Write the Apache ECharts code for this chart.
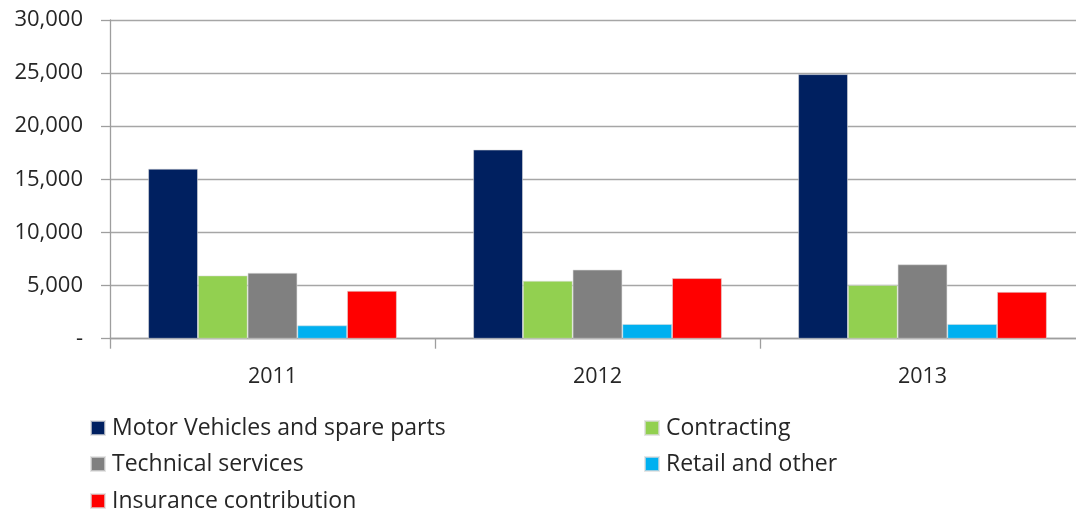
<!DOCTYPE html>
<html>
<head>
<meta charset="utf-8">
<script src="https://cdn.jsdelivr.net/npm/echarts@6/dist/echarts.min.js"></script>
<style>html,body{margin:0;padding:0;background:#fff}#c{width:1076px;height:516px}</style>
</head>
<body>
<div id="c"></div>
<script>
var categories = ['2011', '2012', '2013'];
var seriesNames = ['Motor Vehicles and spare parts', 'Contracting', 'Technical services', 'Retail and other', 'Insurance contribution'];
var motorVehicles = [16000, 17800, 24900];
var contracting = [5950, 5450, 5050];
var technicalServices = [6200, 6500, 7000];
var retailOther = [1250, 1380, 1380];
var insurance = [4500, 5700, 4400];
var colors = ['#002060', '#92D050', '#808080', '#00B0F0', '#FF0000'];
var values = [motorVehicles, contracting, technicalServices, retailOther, insurance];

var font = '"Open Sans", Lato, sans-serif';
var chart = echarts.init(document.getElementById('c'));

var legendPos = [
  {left: 90, top: 416}, {left: 644, top: 416},
  {left: 90, top: 452}, {left: 644, top: 452},
  {left: 90, top: 489}
];
var legends = seriesNames.map(function (n, i) {
  return {
    data: [n], left: legendPos[i].left, top: legendPos[i].top,
    icon: 'rect', itemWidth: 14, itemHeight: 14, itemGap: 0, padding: 0,
    textStyle: {fontFamily: font, fontSize: 23, lineHeight: 24, color: '#262626', padding: [0, 0, 0, 2]},
    selectedMode: false
  };
});

chart.setOption({
  animation: false,
  color: colors,
  grid: {left: 110, top: 20, width: 975, height: 318.7, containLabel: false, outerBoundsMode: 'none'},
  legend: legends,
  xAxis: {
    type: 'category', data: categories,
    axisLine: {lineStyle: {color: '#9e9e9e', width: 1.3}},
    axisTick: {show: true, length: 10, lineStyle: {color: '#9e9e9e', width: 1.3}},
    axisLabel: {fontFamily: font, fontSize: 21.5, color: '#262626', margin: 27}
  },
  yAxis: {
    type: 'value', min: 0, max: 30000, interval: 5000,
    axisLine: {show: true, lineStyle: {color: '#9e9e9e', width: 1.3}},
    axisTick: {show: true, length: 9, lineStyle: {color: '#9e9e9e', width: 1.3}},
    splitLine: {lineStyle: {color: '#a6a6a6', width: 1.3}},
    axisLabel: {
      fontFamily: font, fontSize: 22, color: '#262626', margin: 27,
      formatter: function (v) { return v === 0 ? '-' : v.toLocaleString('en-US'); }
    }
  },
  series: seriesNames.map(function (n, i) {
    return {
      name: n, type: 'bar', data: values[i],
      barGap: '0%', barCategoryGap: '23.5%',
      itemStyle: {color: colors[i], borderColor: 'rgba(220,220,220,0.7)', borderWidth: 0.8}
    };
  })
});
</script>
</body>
</html>
